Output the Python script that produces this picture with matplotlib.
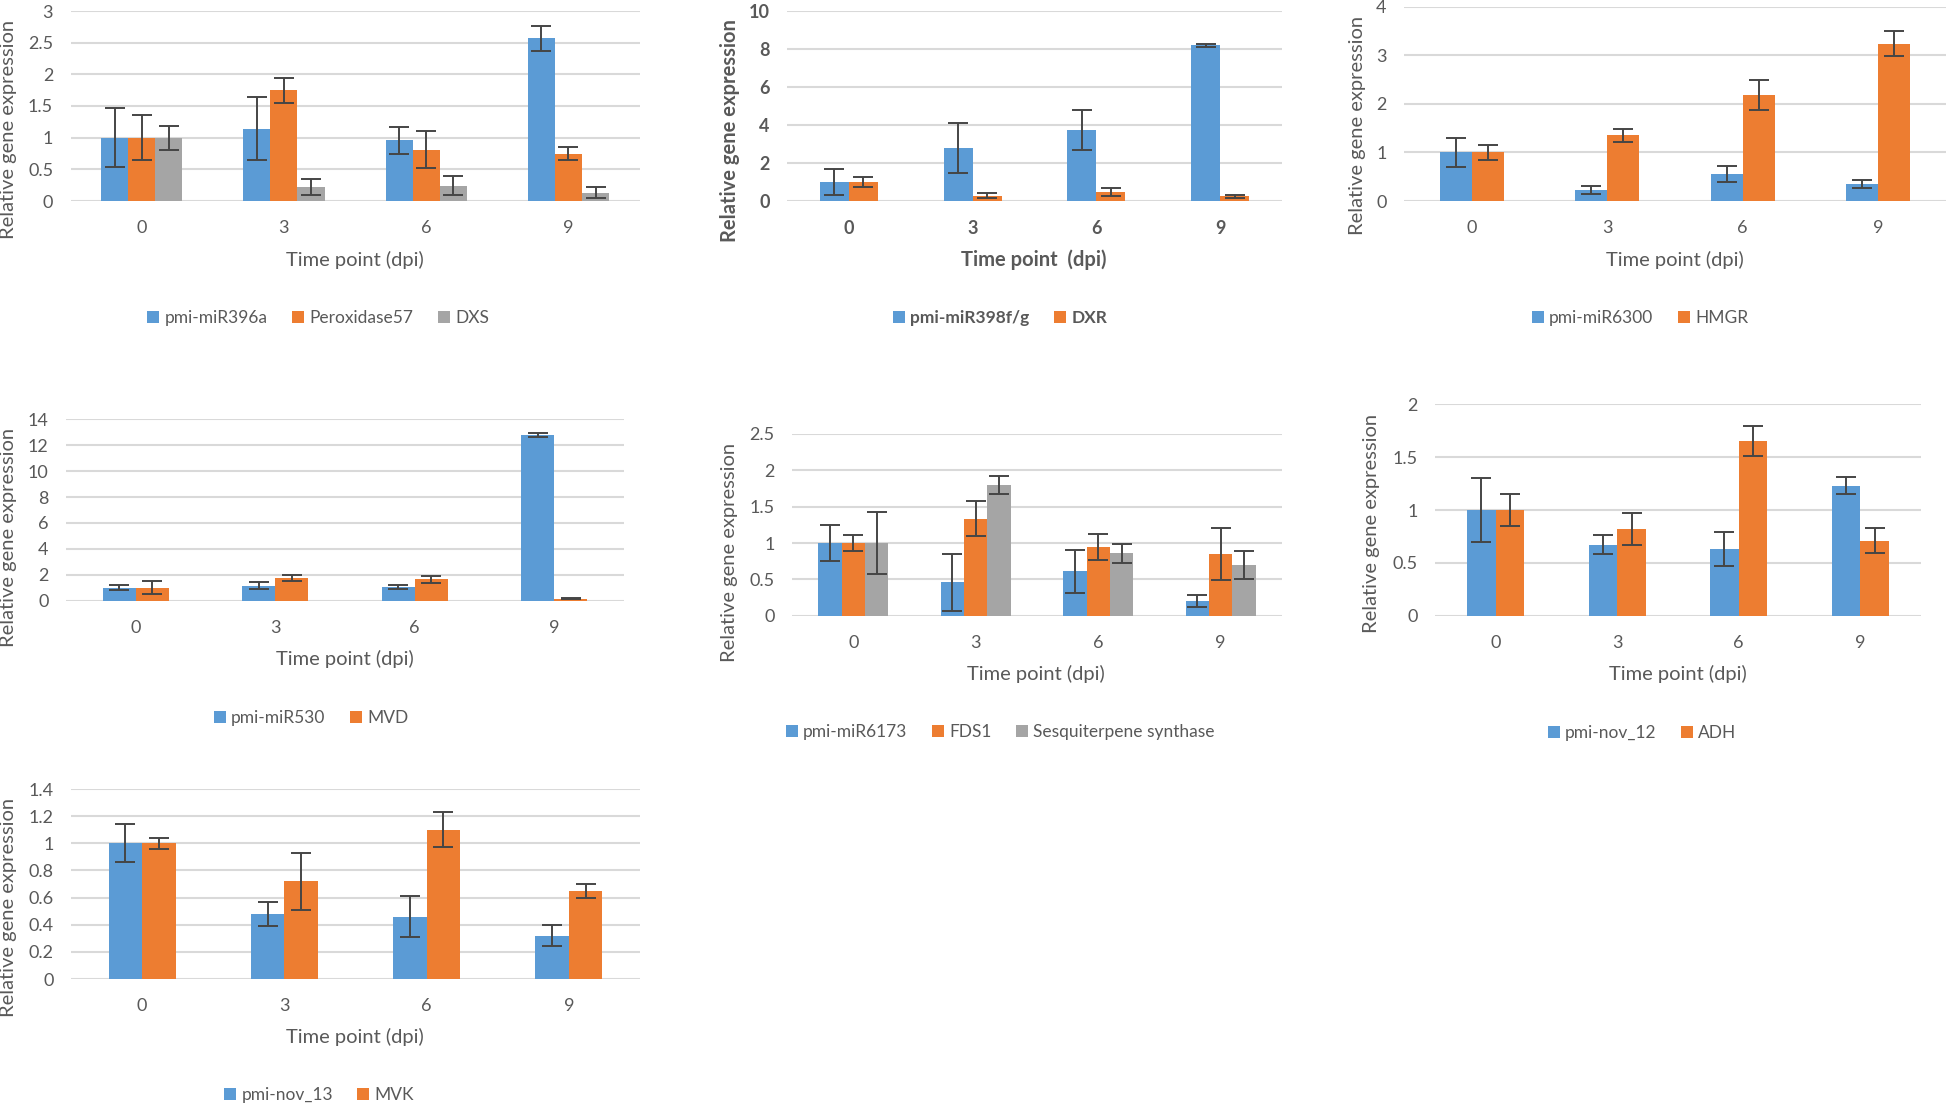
import matplotlib
matplotlib.use('Agg')
import matplotlib.pyplot as plt
import numpy as np

plt.rcParams['font.family'] = ['Lato', 'DejaVu Sans']

# ---------------- data ----------------
categories = ['0', '3', '6', '9']

p1_names = ['pmi-miR396a', 'Peroxidase57', 'DXS']
p1_mir396a = [1.00, 1.14, 0.96, 2.57]
p1_mir396a_err = [0.47, 0.50, 0.21, 0.20]
p1_perox57 = [1.00, 1.75, 0.81, 0.75]
p1_perox57_err = [0.36, 0.20, 0.29, 0.10]
p1_dxs = [1.00, 0.22, 0.24, 0.13]
p1_dxs_err = [0.19, 0.13, 0.15, 0.09]

p2_names = ['pmi-miR398f/g', 'DXR']
p2_mir398 = [1.00, 2.79, 3.74, 8.19]
p2_mir398_err = [0.67, 1.32, 1.03, 0.09]
p2_dxr = [1.00, 0.28, 0.46, 0.25]
p2_dxr_err = [0.26, 0.12, 0.22, 0.08]

p3_names = ['pmi-miR6300', 'HMGR']
p3_mir6300 = [1.00, 0.23, 0.56, 0.35]
p3_mir6300_err = [0.30, 0.08, 0.165, 0.075]
p3_hmgr = [1.00, 1.35, 2.19, 3.24]
p3_hmgr_err = [0.16, 0.13, 0.31, 0.25]

p4_names = ['pmi-miR530', 'MVD']
p4_mir530 = [1.00, 1.16, 1.06, 12.80]
p4_mir530_err = [0.18, 0.28, 0.18, 0.13]
p4_mvd = [1.00, 1.72, 1.67, 0.15]
p4_mvd_err = [0.50, 0.23, 0.27, 0.05]

p5_names = ['pmi-miR6173', 'FDS1', 'Sesquiterpene synthase']
p5_mir6173 = [1.00, 0.46, 0.61, 0.20]
p5_mir6173_err = [0.25, 0.39, 0.30, 0.08]
p5_fds1 = [1.00, 1.335, 0.945, 0.85]
p5_fds1_err = [0.11, 0.24, 0.18, 0.355]
p5_sesq = [1.00, 1.80, 0.86, 0.70]
p5_sesq_err = [0.42, 0.12, 0.13, 0.19]

p6_names = ['pmi-nov_12', 'ADH']
p6_nov12 = [1.00, 0.67, 0.63, 1.23]
p6_nov12_err = [0.30, 0.09, 0.16, 0.08]
p6_adh = [1.00, 0.82, 1.65, 0.71]
p6_adh_err = [0.15, 0.15, 0.14, 0.12]

p7_names = ['pmi-nov_13', 'MVK']
p7_nov13 = [1.00, 0.48, 0.46, 0.32]
p7_nov13_err = [0.14, 0.09, 0.15, 0.08]
p7_mvk = [1.00, 0.72, 1.10, 0.65]
p7_mvk_err = [0.04, 0.21, 0.13, 0.05]

y_max = [3, 10, 4, 14, 2.5, 2, 1.4]
y_step = [0.5, 2, 1, 2, 0.5, 0.5, 0.2]

ylabel_text = 'Relative gene expression'
xlabel_text = ['Time point (dpi)', 'Time point  (dpi)', 'Time point (dpi)', 'Time point (dpi)',
               'Time point (dpi)', 'Time point (dpi)', 'Time point (dpi)']

# ---------------- style / layout ----------------
W, H, DPI = 1946, 1105, 100
COLORS = ['#5B9BD5', '#ED7D31', '#A5A5A5']
TXT = '#595959'
ERRC = '#454545'
GRID = '#D9D9D9'
GAP = 2.25
TICK_FS = 13
TITLE_FS = 14.5
LEG_FS = 12.5

# plot rect: x0, x1, ytop, ybottom (px)
rects = [(70.5, 639.6, 11, 201), (787, 1282, 11, 201), (1404, 1946, 6.7, 201),
         (66, 624, 419.3, 600.7), (792, 1282, 434, 615.7), (1435, 1921, 404.3, 615.7),
         (71, 640, 789, 979)]
ylab_pos = [(9, 129), (730, 131), (1358, 125), (9, 537), (730, 552), (1372, 523), (9, 907)]
xlab_pos = [(355, 260), (1034, 260), (1675, 260), (345, 659), (1036, 674), (1678, 674), (355, 1037)]
leg_pos = [(318, 318), (1000, 318), (1640, 318), (311, 718), (1000, 732), (1642, 733), (319, 1095)]
bold = [False, True, False, False, False, False, False]

panels = [
    (p1_names, [p1_mir396a, p1_perox57, p1_dxs], [p1_mir396a_err, p1_perox57_err, p1_dxs_err]),
    (p2_names, [p2_mir398, p2_dxr], [p2_mir398_err, p2_dxr_err]),
    (p3_names, [p3_mir6300, p3_hmgr], [p3_mir6300_err, p3_hmgr_err]),
    (p4_names, [p4_mir530, p4_mvd], [p4_mir530_err, p4_mvd_err]),
    (p5_names, [p5_mir6173, p5_fds1, p5_sesq], [p5_mir6173_err, p5_fds1_err, p5_sesq_err]),
    (p6_names, [p6_nov12, p6_adh], [p6_nov12_err, p6_adh_err]),
    (p7_names, [p7_nov13, p7_mvk], [p7_nov13_err, p7_mvk_err]),
]

fig = plt.figure(figsize=(W / DPI, H / DPI), dpi=DPI)
fig.patch.set_facecolor('white')

for i, (names, vals, errs) in enumerate(panels):
    x0, x1, yt, yb = rects[i]
    ax = fig.add_axes([x0 / W, 1 - yb / H, (x1 - x0) / W, (yb - yt) / H])
    fw = 'bold' if bold[i] else 'normal'
    n = len(names)
    w = 1.0 / (n + GAP)
    x = np.arange(len(categories))
    handles = []
    for k in range(n):
        b = ax.bar(x + (k - (n - 1) / 2) * w, vals[k], w, yerr=errs[k], color=COLORS[k],
                   label=names[k], zorder=2,
                   error_kw=dict(ecolor=ERRC, elinewidth=1.4, capsize=7, capthick=1.4, zorder=3))
        handles.append(b)
    ax.set_xlim(-0.5, len(categories) - 0.5)
    ax.set_ylim(0, y_max[i])
    ticks = np.arange(0, y_max[i] + y_step[i] / 2, y_step[i])
    ax.set_yticks(ticks, [f'{t:g}' for t in ticks])
    ax.set_xticks(x, categories)
    for s in ax.spines.values():
        s.set_visible(False)
    ax.yaxis.grid(True, color=GRID, lw=1.5, zorder=0)
    ax.set_axisbelow(True)
    ax.tick_params(axis='y', length=0, pad=12.5, labelsize=TICK_FS, labelcolor=TXT)
    ax.tick_params(axis='x', length=0, pad=14, labelsize=TICK_FS, labelcolor=TXT)
    for lab in ax.get_xticklabels() + ax.get_yticklabels():
        lab.set_fontweight(fw)
    fig.text(ylab_pos[i][0] / W, 1 - ylab_pos[i][1] / H, ylabel_text, rotation=90,
             ha='center', va='center', fontsize=TITLE_FS, color=TXT, fontweight=fw)
    fig.text(xlab_pos[i][0] / W, 1 - xlab_pos[i][1] / H, xlabel_text[i],
             ha='center', va='center', fontsize=TITLE_FS, color=TXT, fontweight=fw)
    leg = fig.legend(handles, names, loc='center',
                     bbox_to_anchor=(leg_pos[i][0] / W, 1 - leg_pos[i][1] / H),
                     ncol=n, frameon=False, handlelength=0.7, handleheight=0.7,
                     handletextpad=0.3, columnspacing=1.4, borderpad=0, borderaxespad=0,
                     prop={'weight': fw, 'size': LEG_FS})
    for t in leg.get_texts():
        t.set_color(TXT)

fig.savefig('out.png', dpi=DPI, facecolor='white')
